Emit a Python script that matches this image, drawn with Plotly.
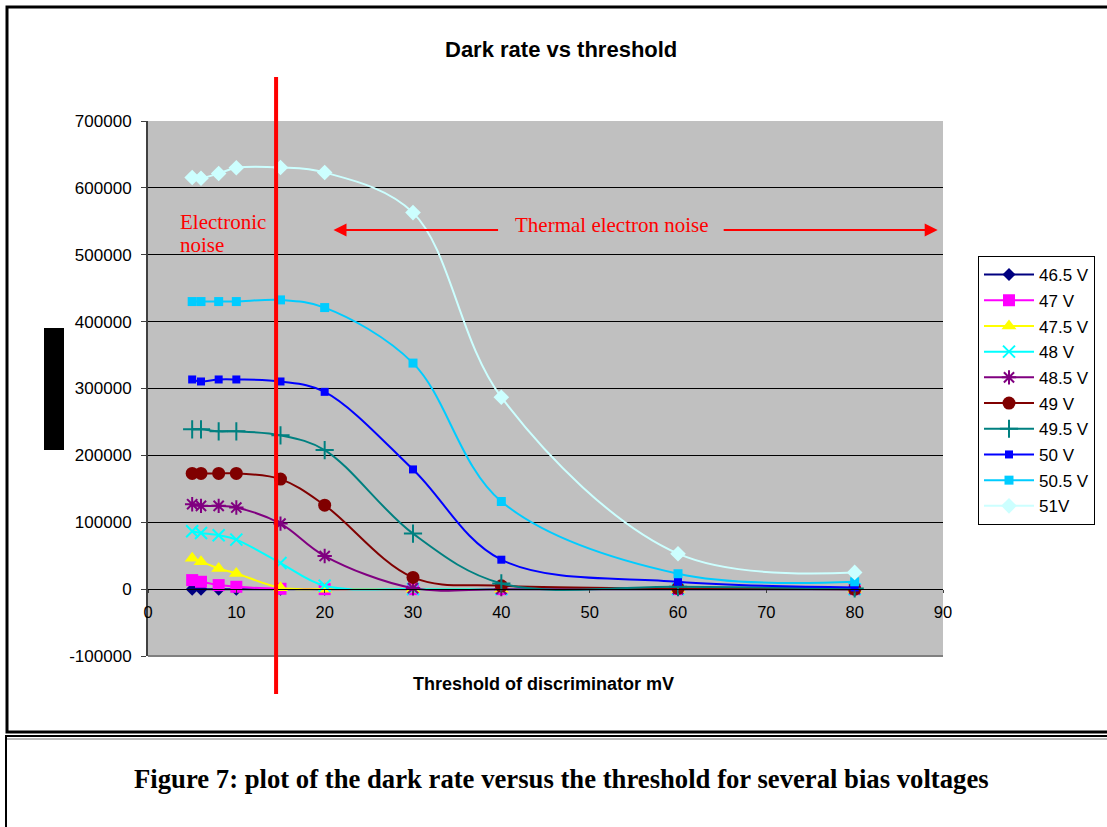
import plotly.graph_objects as go

# ---------------- data ----------------
thresholds = [5, 6, 8, 10, 15, 20, 30, 40, 60, 80]
series_names = ["46.5 V", "47 V", "47.5 V", "48 V", "48.5 V", "49 V", "49.5 V", "50 V", "50.5 V", "51V"]
v46_5 = [0, 0, 0, 0, 0, 0, 0, 0, 0, 0]
v47 = [13500, 11000, 6000, 3500, 500, 0, 0, 0, 0, 0]
v47_5 = [46000, 41000, 31000, 23500, 2000, 0, 0, 0, 0, 0]
v48 = [86500, 84000, 80500, 74000, 39000, 5000, 0, 0, 0, 0]
v48_5 = [127000, 124500, 124500, 122000, 98000, 49500, 1500, 0, 0, 0]
v49 = [173000, 173000, 173000, 173000, 164500, 125500, 17500, 5000, 1000, 0]
v49_5 = [239000, 239000, 236000, 236000, 230000, 208000, 83000, 8500, 3500, 1000]
v50 = [313500, 310500, 313500, 313500, 310500, 295000, 179000, 44000, 11000, 2500]
v50_5 = [430000, 430000, 430000, 430000, 432500, 421000, 338000, 131000, 23000, 11000]
v51 = [615500, 614500, 621500, 630000, 630500, 623000, 563000, 287000, 53000, 25000]
series_values = [v46_5, v47, v47_5, v48, v48_5, v49, v49_5, v50, v50_5, v51]

y_tick_vals = [-100000, 0, 100000, 200000, 300000, 400000, 500000, 600000, 700000]
y_tick_text = ["-100000", "0", "100000", "200000", "300000", "400000", "500000", "600000", "700000"]
x_tick_vals = [0, 10, 20, 30, 40, 50, 60, 70, 80, 90]
x_tick_text = ["0", "10", "20", "30", "40", "50", "60", "70", "80", "90"]
electronic_limit = 14.5          # mV, red separator
thermal_arrow_left = (21.0, 39.8)
thermal_arrow_right = (65.0, 89.4)
arrow_level = 537000

# ---------------- styles ----------------
styles = [
    dict(color="#000080", symbol="diamond", size=10),
    dict(color="#FF00FF", symbol="square", size=12),
    dict(color="#FFFF00", symbol="triangle-up", size=13),
    dict(color="#00FFFF", symbol="x-thin", size=12),
    dict(color="#800080", symbol="asterisk-open", size=12),
    dict(color="#800000", symbol="circle", size=13),
    dict(color="#008080", symbol="cross-thin-open", size=13),
    dict(color="#0000FF", symbol="square", size=8),
    dict(color="#00CCFF", symbol="square", size=9),
    dict(color="#CCFFFF", symbol="diamond", size=12),
]

W, H = 1107, 827
L, R, T, B = 148, 164, 121, 171
PW, PH = W - L - R, H - T - B


def px(xp):
    return (xp - L) / PW


def py(yp):
    return (H - B - yp) / PH


fig = go.Figure()
for i, (name, vals, st) in enumerate(zip(series_names, series_values, styles)):
    thin = st["symbol"] in ("x-thin", "asterisk-open", "cross-thin-open")
    fig.add_trace(go.Scatter(
        x=thresholds, y=vals, name=name, mode="lines+markers",
        legendgroup=f"g{i}",
        line=dict(color=st["color"], width=2, shape="spline", smoothing=1.0),
        marker=dict(symbol=st["symbol"], size=st["size"], color=st["color"],
                    line=dict(color=st["color"], width=2 if thin else 0)),
    ))

font_sans = "Liberation Sans, Arial, sans-serif"
font_serif = "Liberation Serif, Times New Roman, serif"

fig.update_layout(
    width=W, height=H,
    margin=dict(l=L, r=R, t=T, b=B, pad=0),
    paper_bgcolor="white", plot_bgcolor="#C0C0C0",
    font=dict(family=font_sans, size=17, color="black"),
    showlegend=True,
    legend=dict(x=px(978), y=py(256), xanchor="left", yanchor="top",
                bgcolor="white", bordercolor="black", borderwidth=1,
                font=dict(family=font_sans, size=17, color="black"),
                traceorder="grouped", tracegroupgap=0.6,
                itemwidth=50),
    xaxis=dict(range=[0, 90], tickvals=x_tick_vals, ticktext=x_tick_text, showgrid=False, zeroline=False,
               anchor="free", position=py(589), showline=True, linecolor="black", linewidth=1,
               ticks="outside", ticklen=3, tickcolor="#404040",
               tickfont=dict(family=font_sans, size=16.5, color="black"), ticklabelstandoff=5),
    yaxis=dict(range=[-100000, 700000], tickvals=y_tick_vals, ticktext=y_tick_text, showgrid=True,
               gridcolor="black", gridwidth=1, zeroline=True, zerolinecolor="black", zerolinewidth=1,
               showline=True, linecolor="#404040", linewidth=2,
               ticks="outside", ticklen=5, tickcolor="#404040",
               tickfont=dict(family=font_sans, size=17, color="black"), ticklabelstandoff=6),
)

shapes = [
    # plot-area bottom border
    dict(type="line", xref="paper", yref="paper", x0=0, x1=1, y0=0, y1=0,
         line=dict(color="#808080", width=2), layer="below"),
    # red separator line
    dict(type="line", xref="x", yref="paper", x0=electronic_limit, x1=electronic_limit,
         y0=py(694), y1=py(77), line=dict(color="#FF0000", width=4)),
    # black box over y-axis title
    dict(type="rect", xref="paper", yref="paper", x0=px(44), x1=px(64), y0=py(450), y1=py(328),
         fillcolor="black", line=dict(width=0)),
    # outer frame of chart
    dict(type="rect", xref="paper", yref="paper", x0=px(7), x1=px(1112), y0=py(732), y1=py(7),
         line=dict(color="black", width=3)),
    # caption frame
    dict(type="rect", xref="paper", yref="paper", x0=px(6), x1=px(1112), y0=py(840), y1=py(736),
         line=dict(color="black", width=2)),
    dict(type="line", xref="paper", yref="paper", x0=px(7), x1=px(1112), y0=py(739), y1=py(739),
         line=dict(color="#A0A0A0", width=1.5)),
]
fig.update_layout(shapes=shapes)

annotations = [
    dict(text="<b>Dark rate vs threshold</b>", xref="paper", yref="paper", x=px(561), y=py(50),
         showarrow=False, font=dict(family=font_sans, size=22, color="black"),
         xanchor="center", yanchor="middle"),
    dict(text="<b>Threshold of discriminator mV</b>", xref="paper", yref="paper", x=px(543), y=py(684),
         showarrow=False, font=dict(family=font_sans, size=18, color="black"),
         xanchor="center", yanchor="middle"),
    dict(text="Electronic", xref="paper", yref="paper", x=px(178), y=py(222),
         showarrow=False, font=dict(family=font_serif, size=21, color="#FF0000"),
         xanchor="left", yanchor="middle"),
    dict(text="noise", xref="paper", yref="paper", x=px(178), y=py(245),
         showarrow=False, font=dict(family=font_serif, size=21, color="#FF0000"),
         xanchor="left", yanchor="middle"),
    dict(text="Thermal electron noise", xref="paper", yref="paper", x=px(612), y=py(225),
         showarrow=False, font=dict(family=font_serif, size=21, color="#FF0000"),
         xanchor="center", yanchor="middle"),
    dict(text="", x=thermal_arrow_left[0], y=arrow_level, ax=thermal_arrow_left[1], ay=arrow_level,
         xref="x", yref="y", axref="x", ayref="y", showarrow=True,
         arrowhead=2, arrowsize=1.3, arrowwidth=2, arrowcolor="#FF0000"),
    dict(text="", x=thermal_arrow_right[1], y=arrow_level, ax=thermal_arrow_right[0], ay=arrow_level,
         xref="x", yref="y", axref="x", ayref="y", showarrow=True,
         arrowhead=2, arrowsize=1.3, arrowwidth=2, arrowcolor="#FF0000"),
    dict(text="<b>Figure 7: plot of the dark rate versus the threshold for several bias voltages</b>",
         xref="paper", yref="paper", x=px(561), y=py(779), showarrow=False,
         font=dict(family=font_serif, size=26.7, color="black"), xanchor="center", yanchor="middle"),
]
fig.update_layout(annotations=annotations)

fig.write_html("out.html")
